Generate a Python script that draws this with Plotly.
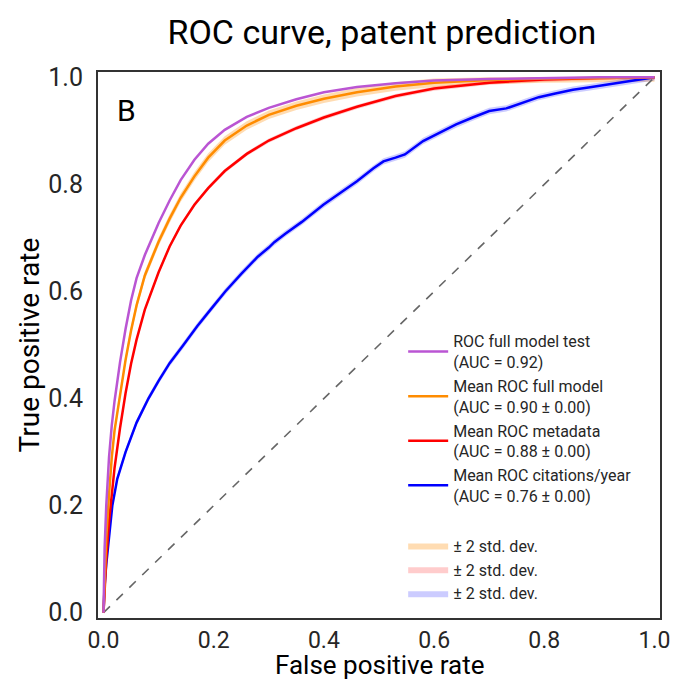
import plotly.graph_objects as go

# ---- data ----
fpr = [0, 0.002, 0.005, 0.01, 0.015, 0.02, 0.03, 0.04, 0.05, 0.06, 0.075, 0.09, 0.1, 0.12, 0.14,
       0.165, 0.19, 0.22, 0.26, 0.3, 0.35, 0.4, 0.46, 0.53, 0.6, 0.7, 0.8, 0.9, 1.0]
tpr_test = [0, 0.12, 0.20, 0.29, 0.35, 0.395, 0.468, 0.53, 0.583, 0.625, 0.668, 0.705, 0.728, 0.77, 0.808,
            0.846, 0.876, 0.902, 0.926, 0.943, 0.959, 0.972, 0.982, 0.989, 0.994, 0.997, 0.999, 1.0, 1.0]
tpr_full = [0, 0.07, 0.14, 0.22, 0.29, 0.34, 0.41, 0.472, 0.527, 0.574, 0.63, 0.668, 0.693, 0.736, 0.775,
            0.815, 0.85, 0.882, 0.91, 0.93, 0.947, 0.96, 0.972, 0.983, 0.99, 0.995, 0.998, 0.999, 1.0]
tpr_meta = [0, 0.05, 0.10, 0.17, 0.225, 0.27, 0.345, 0.41, 0.465, 0.51, 0.566, 0.61, 0.636, 0.684, 0.723,
            0.762, 0.793, 0.825, 0.857, 0.882, 0.905, 0.925, 0.945, 0.965, 0.979, 0.99, 0.996, 0.999, 1.0]

fpr_cit = [0, 0.002, 0.005, 0.01, 0.016, 0.025, 0.04, 0.06, 0.0815, 0.1, 0.12, 0.145, 0.17, 0.195, 0.221,
           0.25, 0.28, 0.3, 0.31, 0.33, 0.36, 0.399, 0.43, 0.46, 0.49, 0.508, 0.53, 0.547, 0.58, 0.61,
           0.64, 0.67, 0.70, 0.731, 0.76, 0.79, 0.82, 0.852, 0.88, 0.912, 0.95, 1.0]
tpr_cit = [0, 0.05, 0.09, 0.14, 0.2, 0.25, 0.30, 0.355, 0.40, 0.433, 0.466, 0.5, 0.535, 0.567, 0.6,
           0.633, 0.665, 0.682, 0.692, 0.708, 0.73, 0.762, 0.785, 0.806, 0.83, 0.843, 0.85, 0.856, 0.881, 0.897,
           0.912, 0.925, 0.937, 0.942, 0.953, 0.963, 0.97, 0.977, 0.981, 0.986, 0.992, 1.0]

std_full = 0.004
std_meta = 0.002
std_cit = 0.003

labels = {
    "test": "ROC full model test<br>(AUC = 0.92)",
    "full": "Mean ROC full model<br>(AUC = 0.90 ± 0.00)",
    "meta": "Mean ROC metadata<br>(AUC = 0.88 ± 0.00)",
    "cit": "Mean ROC citations/year<br>(AUC = 0.76 ± 0.00)",
    "band": "± 2 std. dev.",
}
title_text = "ROC curve, patent prediction"
x_title = "False positive rate"
y_title = "True positive rate"
panel = "B"

FONT = "Roboto"
TXT = "#262626"

fig = go.Figure()

def band(x, y, s, color, rank):
    lo = [max(v - 2 * s, 0) for v in y]
    hi = [min(v + 2 * s, 1) for v in y]
    fig.add_trace(go.Scatter(x=x, y=lo, mode="lines", line=dict(width=0), showlegend=False,
                             hoverinfo="skip", legendgroup="bands"))
    fig.add_trace(go.Scatter(x=x, y=hi, mode="lines", line=dict(width=0), fill="tonexty",
                             fillcolor=color, name=labels["band"], legendrank=rank, legendgroup="bands"))

band(fpr, tpr_full, std_full, "rgba(255,140,0,0.3)", 5)
band(fpr, tpr_meta, std_meta, "rgba(255,0,0,0.2)", 6)
band(fpr_cit, tpr_cit, std_cit, "rgba(0,0,255,0.2)", 7)

fig.add_trace(go.Scatter(x=[0, 1], y=[0, 1], mode="lines", showlegend=False,
                         line=dict(color="#666666", width=1.6, dash="dash")))

fig.add_trace(go.Scatter(x=fpr_cit, y=tpr_cit, mode="lines", name=labels["cit"], legendrank=4,
                         legendgroup="lines", line=dict(color="#0000FF", width=2.5)))
fig.add_trace(go.Scatter(x=fpr, y=tpr_meta, mode="lines", name=labels["meta"], legendrank=3,
                         legendgroup="lines", line=dict(color="#FF0000", width=2.5)))
fig.add_trace(go.Scatter(x=fpr, y=tpr_full, mode="lines", name=labels["full"], legendrank=2,
                         legendgroup="lines", line=dict(color="#FF8C00", width=2.5)))
fig.add_trace(go.Scatter(x=fpr, y=tpr_test, mode="lines", name=labels["test"], legendrank=1,
                         legendgroup="lines", line=dict(color="#BA55D3", width=2.5)))

axis_common = dict(
    range=[-0.01, 1.01], showgrid=False, zeroline=False, showline=True, mirror=True,
    linecolor="#333333", linewidth=2, ticks="",
    tickvals=[0, 0.2, 0.4, 0.6, 0.8, 1.0], ticktext=["0.0", "0.2", "0.4", "0.6", "0.8", "1.0"],
    automargin=False,
)

fig.update_layout(
    width=676, height=684,
    margin=dict(l=98, r=16, t=72, b=66),
    paper_bgcolor="white", plot_bgcolor="white",
    title=dict(text=title_text, x=0.565, xanchor="center", y=0.953, yanchor="middle",
               font=dict(family=FONT, size=34, color="black"), automargin=False),
    xaxis=dict(**axis_common, ticklabelstandoff=0, tickfont=dict(family=FONT, size=23, color=TXT)),
    yaxis=dict(**axis_common, ticklabelstandoff=8, tickfont=dict(family=FONT, size=25, color=TXT)),
    legend=dict(x=0.543, y=0.538, xanchor="left", yanchor="top", bgcolor="rgba(0,0,0,0)",
                font=dict(family=FONT, size=16, color=TXT), tracegroupgap=26, itemwidth=40,
                traceorder="grouped"),
    showlegend=True,
    annotations=[
        dict(text=panel, x=0.03, y=0.965, xref="paper", yref="paper", xanchor="left", yanchor="top",
             showarrow=False, font=dict(family=FONT, size=30, color="black")),
        dict(text=x_title, x=0.5, y=-0.117, xref="paper", yref="paper", xanchor="center", yanchor="bottom",
             showarrow=False, font=dict(family=FONT, size=26, color="black")),
        dict(text=y_title, x=-0.122, y=0.5, xref="paper", yref="paper", xanchor="center", yanchor="middle",
             textangle=-90, showarrow=False, font=dict(family=FONT, size=28, color="black")),
    ],
)

fig.write_html("out.html")
